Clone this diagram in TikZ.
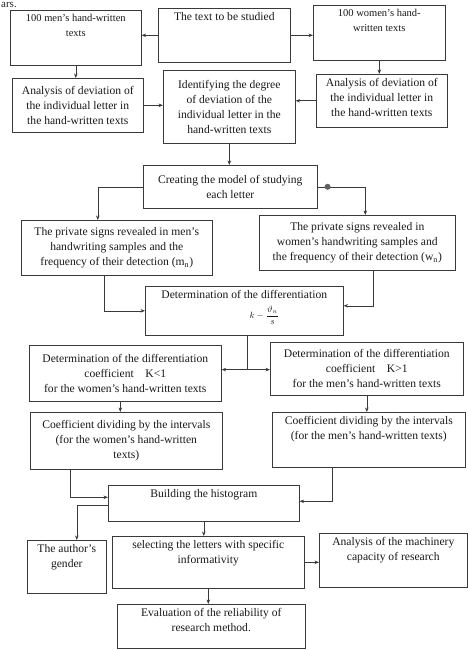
\documentclass[tikz,border=0pt]{standalone}
\usepackage{fontspec}
\setmainfont{Liberation Serif}
\usetikzlibrary{arrows.meta}
\definecolor{inkgray}{HTML}{3A3A3A}
\tikzset{
  box/.style={draw=inkgray, line width=0.6pt, inner sep=0pt, anchor=north west,
    text=black!90, font=\fontsize{11.6}{15}\selectfont},
  arr/.style={draw=inkgray, line width=0.6pt, -{Stealth[length=4.5pt,width=3.5pt]}},
  link/.style={draw=inkgray, line width=0.6pt}
}
\newcommand{\toptext}[3]{\parbox[c][#2][t]{#1}{\centering\vspace*{4pt}#3\par}}
\newcommand{\midtext}[3]{\parbox[c][#2][c]{#1}{\centering #3\par}}
\begin{document}
\begin{tikzpicture}[x=1pt, y=-1pt]
  \useasboundingbox (0,0) rectangle (468,650);
  \node[anchor=base west, inner sep=0pt, font=\fontsize{11}{11}\selectfont, text=black!85] (frag) at (1,8) {ars.};
  % first rows
  \node[box] (men) at (10,10) {\toptext{131pt}{55pt}{\fontsize{10.5}{15}\selectfont 100 men's hand-written\\texts}};
  \node[box] (text) at (158,8) {\toptext{132pt}{54pt}{The text to be studied}};
  \node[box] (women) at (313,5) {\toptext{132pt}{55pt}{\fontsize{10.5}{15}\selectfont 100 women's hand-\\written texts}};
  \node[box] (anl) at (12,78) {\midtext{131pt}{54pt}{Analysis of deviation of\\the individual letter in\\the hand-written texts}};
  \node[box] (ident) at (163,70) {\midtext{132pt}{73pt}{Identifying the degree\\of deviation of the\\individual letter in the\\hand-written texts}};
  \node[box] (anr) at (316,74) {\toptext{131pt}{53pt}{Analysis of deviation of\\the individual letter in\\the hand-written texts}};
  % model and signs
  \node[box] (model) at (143,165) {\midtext{174pt}{43pt}{Creating the model of studying\\each letter}};
  \node[box] (pm) at (21,220) {\midtext{191pt}{55pt}{The private signs revealed in men's\\handwriting samples and the\\frequency of their detection (m\textsubscript{n})}};
  \node[box] (pw) at (259,215) {\midtext{196pt}{55pt}{The private signs revealed in\\women's handwriting samples and\\the frequency of their detection (w\textsubscript{n})}};
  \node[box] (diff) at (145,286) {\toptext{198pt}{49pt}{Determination of the differentiation\\[5pt]\hspace*{40pt}{\fontsize{9}{9}\selectfont$\displaystyle k-\frac{\vartheta_n}{s}$}}};
  % coefficients
  \node[box] (klt) at (29,345) {\midtext{192pt}{56pt}{Determination of the differentiation\\coefficient\quad K<1\\for the women's hand-written texts}};
  \node[box] (kgt) at (270,342) {\midtext{193pt}{53pt}{Determination of the differentiation\\coefficient\quad K>1\\for the men's hand-written texts}};
  \node[box] (cw) at (30,412) {\midtext{192pt}{57pt}{Coefficient dividing by the intervals\\(for the women's hand-written\\texts)}};
  \node[box] (cm) at (272,412) {\toptext{193pt}{55pt}{Coefficient dividing by the intervals\\(for the men's hand-written texts)}};
  % histogram and results
  \node[box] (hist) at (108,485) {\toptext{191pt}{36pt}{Building the histogram}};
  \node[box] (author) at (27,540) {\toptext{79pt}{53pt}{The author's\\gender}};
  \node[box] (sel) at (112,536) {\toptext{192pt}{52pt}{selecting the letters with specific\\informativity}};
  \node[box] (mach) at (319,533) {\toptext{148pt}{54pt}{Analysis of the machinery\\capacity of research}};
  \node[box] (eval) at (117,604) {\toptext{188pt}{44pt}{Evaluation of the reliability of\\research method.}};
  % connectors
  \draw[arr] (text.west) -- (text.west -| men.east);
  \draw[arr] (text.east) -- (text.east -| women.west);
  \draw[arr] (men.south) -- (men.south |- anl.north);
  \draw[arr] (women.south) -- (women.south |- anr.north);
  \draw[arr] (anl.east) -- (anl.east -| ident.west);
  \draw[arr] (anr.west) -- (anr.west -| ident.east);
  \draw[arr] (ident.south) -- (ident.south |- model.north);
  \draw[arr] (model.west) -| ([xshift=-19pt]pm.north);
  \draw[arr] (model.east) -| ([xshift=8pt]pw.north);
  \fill[inkgray!80] ([xshift=10pt]model.east) circle (3pt);
  \draw[arr] ([xshift=-13pt]pm.south) |- (diff.west);
  \draw[arr] ([xshift=16pt]pw.south) |- ([yshift=5pt]diff.east);
  \coordinate (split) at ([xshift=3pt,yshift=-34pt]diff.south);
  \draw[link] (split |- diff.south) -- (split);
  \draw[arr] (split) -- (split -| klt.east);
  \draw[arr] (split) -- (split -| kgt.west);
  \draw[arr] ([xshift=-5pt]klt.south) -- ([xshift=-5pt]klt.south |- cw.north);
  \draw[arr] (kgt.south) -- (kgt.south |- cm.north);
  \draw[arr] ([xshift=-56pt]cw.south) |- ([yshift=6pt]hist.west);
  \draw[arr] ([xshift=-37pt]cm.south) |- ([yshift=2pt]hist.east);
  \draw[arr] ([yshift=-2pt]hist.west) -| ([xshift=10pt]author.north);
  \draw[arr] (hist.south) -- (hist.south |- sel.north);
  \draw[arr] (sel.east) -- (sel.east -| mach.west);
  \draw[arr] (sel.south) -- (sel.south |- eval.north);
\end{tikzpicture}
\end{document}
